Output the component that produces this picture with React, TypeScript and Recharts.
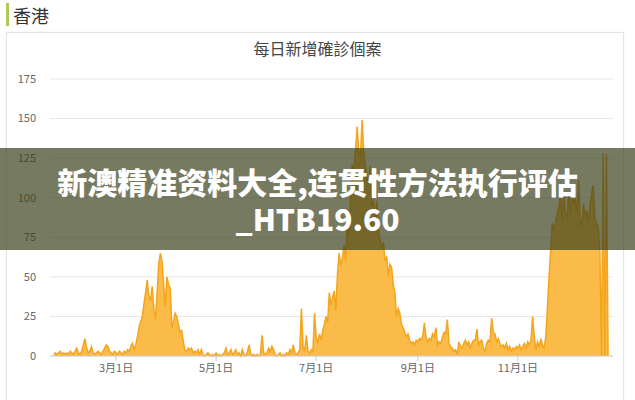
import React from 'react';
import { AreaChart, Area, XAxis, YAxis, CartesianGrid } from 'recharts';

// Day-of-year (Jan 1 = 0) of the first value of each monthly list
const monthStartDays = [22, 31, 60, 91, 121, 152, 182, 213, 244, 274, 305, 335];

const janCases = [1, 2, 1, 2, 3, 1, 2, 1, 2];
const febCases = [1, 3, 2, 1, 3, 5, 2, 1, 3, 7, 11, 5, 2, 3, 6, 2, 1, 2, 3, 2, 1, 3, 5, 7, 6, 3, 2, 1, 3];
const marCases = [2, 1, 3, 2, 1, 3, 2, 4, 3, 6, 8, 4, 7, 12, 18, 22, 25, 33, 40, 48, 38, 35, 44, 30, 23, 40, 58, 65, 60, 45, 31];
const aprCases = [50, 45, 43, 18, 22, 27, 25, 20, 15, 16, 9, 4, 3, 5, 4, 5, 2, 3, 2, 4, 1, 4, 1, 0, 1, 2, 1, 0, 1, 0];
const mayCases = [2, 0, 1, 0, 1, 2, 5, 1, 2, 4, 1, 2, 4, 1, 2, 0, 4, 1, 0, 2, 7, 2, 0, 1, 0, 1, 0, 1, 13, 2, 1];
const junCases = [2, 5, 3, 6, 4, 1, 0, 1, 2, 0, 1, 0, 2, 1, 4, 2, 7, 2, 1, 2, 4, 30, 6, 3, 13, 3, 2, 4, 3, 27];
const julCases = [12, 8, 14, 10, 16, 20, 25, 21, 40, 32, 37, 41, 29, 52, 65, 57, 62, 70, 60, 88, 75, 100, 120, 118, 130, 145, 128, 126, 149, 130, 120];
const augCases = [113, 108, 120, 95, 98, 85, 98, 80, 73, 68, 72, 60, 63, 50, 58, 56, 45, 40, 25, 30, 27, 20, 18, 15, 12, 14, 10, 8, 9, 7, 10];
const sepCases = [9, 11, 10, 13, 21, 12, 9, 11, 10, 14, 12, 18, 7, 9, 8, 12, 15, 14, 23, 8, 6, 5, 3, 4, 1, 9, 6, 5, 8, 10];
const octCases = [7, 9, 5, 8, 10, 10, 17, 7, 9, 10, 5, 3, 8, 10, 9, 24, 15, 14, 9, 11, 8, 6, 7, 5, 8, 4, 6, 3, 5, 4, 6];
const novCases = [5, 7, 4, 6, 8, 5, 9, 7, 10, 25, 12, 4, 9, 6, 11, 7, 5, 12, 30, 50, 67, 84, 80, 84, 90, 94, 103, 85, 103, 90];
const decCases = [88, 103, 90, 103, 95, 100, 90, 111, 85, 82, 96, 88, 92, 84, 95, 103, 108, 86, 84, 82, 65, 0, 128, 0, 128, 0];

const monthlyCases = [janCases, febCases, marCases, aprCases, mayCases, junCases, julCases, augCases, sepCases, octCases, novCases, decCases];

const tickDays = [60, 121, 182, 244, 305];
const tickLabels = ['3月1日', '5月1日', '7月1日', '9月1日', '11月1日'];
const yTicks = [0, 25, 50, 75, 100, 125, 150, 175];

const regionLabel = '香港';
const chartTitle = '每日新增確診個案';
const bannerLine1 = '新澳精准资料大全,连贯性方法执行评估';
const bannerLine2 = '_HTB19.60';

const data = monthlyCases.flatMap((arr, m) =>
  arr.map((v, i) => ({ day: monthStartDays[m] + i, cases: v }))
);

const cjk = '"Noto Sans CJK TC", "Noto Sans CJK SC", "Noto Sans", sans-serif';

export default function App() {
  return (
    <div
      style={{
        position: 'absolute',
        left: 0,
        top: 0,
        width: 635,
        height: 400,
        overflow: 'hidden',
        background: '#ffffff',
        fontFamily: cjk,
      }}
    >
      <div
        style={{
          position: 'absolute',
          left: 6,
          top: 32,
          width: 618,
          height: 400,
          border: '1px solid #e4e4e4',
          boxShadow: '0 0 2px rgba(0,0,0,0.06)',
          boxSizing: 'border-box',
        }}
      />
      <div
        style={{
          position: 'absolute',
          left: 6,
          top: 3,
          width: 3,
          height: 23,
          background: '#b3c85a',
        }}
      />
      <div
        style={{
          position: 'absolute',
          left: 13,
          top: 3,
          fontSize: 18,
          lineHeight: '24px',
          color: '#333',
        }}
      >
        {regionLabel}
      </div>
      <div style={{ position: 'absolute', left: 0, top: 0 }}>
        <AreaChart
          width={635}
          height={400}
          data={data}
          margin={{ top: 79, right: 22, bottom: 14, left: 0 }}
        >
          <CartesianGrid vertical={false} stroke="#e6e6e6" />
          <XAxis
            dataKey="day"
            type="number"
            domain={[19.7, 363]}
            allowDataOverflow
            ticks={tickDays}
            tickFormatter={(d) => tickLabels[tickDays.indexOf(d)] ?? ''}
            height={30}
            axisLine={{ stroke: '#cccccc' }}
            tickLine={{ stroke: '#cccccc' }}
            tickSize={5}
            tickMargin={3}
            tick={{ fontSize: 11, fill: '#666', fontFamily: cjk }}
            interval={0}
          />
          <YAxis
            type="number"
            domain={[0, 175]}
            ticks={yTicks}
            width={50}
            axisLine={false}
            tickLine={false}
            tickMargin={8}
            tick={{ fontSize: 11, fill: '#666', fontFamily: cjk }}
            interval={0}
          />
          <Area
            type="linear"
            dataKey="cases"
            stroke="#f5a51c"
            strokeWidth={1.5}
            fill="#fbbb48"
            fillOpacity={1}
            dot={false}
            activeDot={false}
            isAnimationActive={false}
          />
        </AreaChart>
      </div>
      <div
        style={{
          position: 'absolute',
          left: 0,
          width: 635,
          top: 40,
          textAlign: 'center',
          fontSize: 16,
          lineHeight: '16px',
          color: '#444',
        }}
      >
        {chartTitle}
      </div>
      <div
        style={{
          position: 'absolute',
          left: 0,
          top: 148,
          width: 635,
          height: 102,
          background: 'rgba(60,65,30,0.7)',
          color: '#ffffff',
          fontFamily: '"Noto Sans CJK SC", "Noto Sans", sans-serif',
          fontWeight: 900,
          fontSize: 30,
          lineHeight: '37px',
          textAlign: 'center',
          paddingTop: 15,
          boxSizing: 'border-box',
          whiteSpace: 'nowrap',
        }}
      >
        <div>{bannerLine1}</div>
        <div>{bannerLine2}</div>
      </div>
    </div>
  );
}
